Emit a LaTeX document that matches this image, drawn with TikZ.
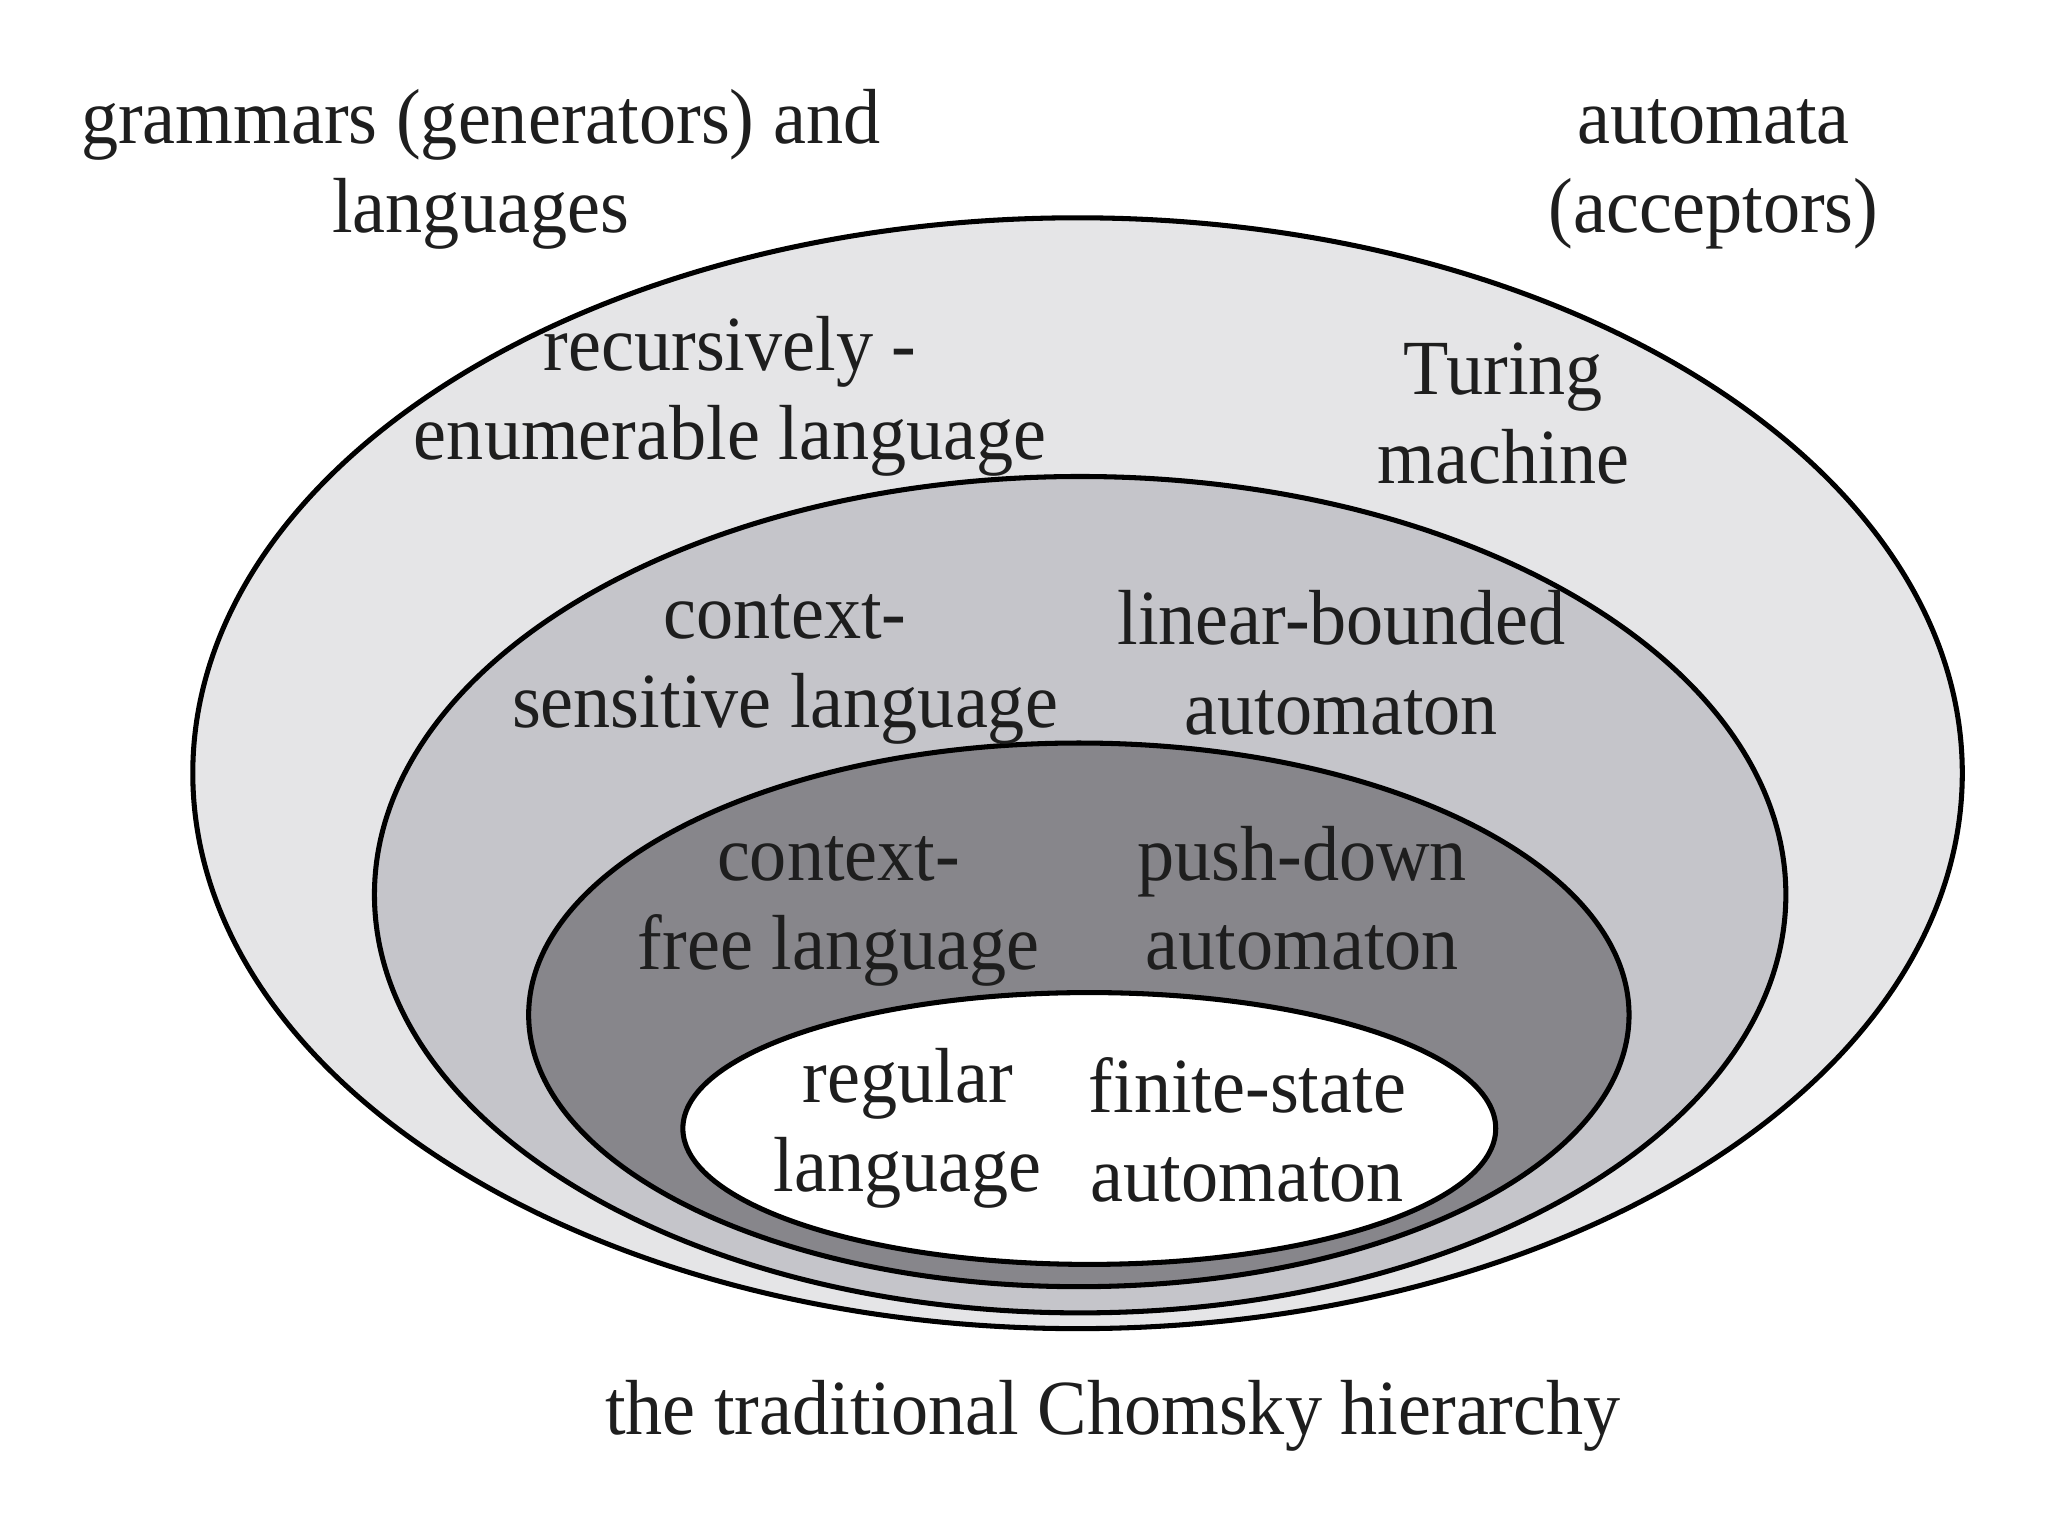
\documentclass[tikz,border=0pt]{standalone}
\usepackage{fontspec}
\setmainfont[FakeStretch=0.95]{Liberation Serif}

\definecolor{outergray}{HTML}{E5E5E7}
\definecolor{midgray}{HTML}{C5C5CA}
\definecolor{darkgray}{HTML}{87868B}
\definecolor{inkgray}{HTML}{1E1E1E}

\tikzset{
    txt/.style={align=center, anchor=base, text=inkgray, inner sep=0pt,
        font=\fontsize{17pt}{19.4pt}\selectfont},
    ring/.style={draw=black, line width=1.1pt}
}

\begin{document}
\begin{tikzpicture}[x=0.01cm, y=-0.01cm]
        \useasboundingbox[fill=white] (0, 0) rectangle (1568, 1176);

        \draw[ring, fill=outergray] (825, 592) ellipse [x radius=6.77cm, y radius=4.25cm];
        \draw[ring, fill=midgray] (827, 685) ellipse [x radius=5.40cm, y radius=3.20cm];
        \draw[ring, fill=darkgray] (826, 777) ellipse [x radius=4.21cm, y radius=2.08cm];
        \draw[ring, fill=white] (834, 864) ellipse [x radius=3.11cm, y radius=1.04cm];

        % anchor base = baseline of the last line
        \node[txt] (grammars) at (368, 178) {grammars (generators) and\\languages};
        \node[txt] (automata) at (1312, 178) {automata\\(acceptors)};

        \node[txt] (re) at (559, 352) {recursively -\\enumerable language};
        \node[txt] (turing) at (1151, 370) {Turing\\machine};

        \node[txt] (cs) at (601, 557) {context-\\sensitive language};
        \node[txt] (lba) at (1027, 562) {linear-bounded\\automaton};

        \node[txt] (cf) at (642, 742) {context-\\free language};
        \node[txt] (pda) at (997, 742) {push-down\\automaton};

        \node[txt] (reg) at (695, 912) {regular\\language};
        \node[txt] (fsa) at (955, 920) {finite-state\\automaton};

        \node[txt] (title) at (852, 1098) {the traditional Chomsky hierarchy};
    \end{tikzpicture}
\end{document}
